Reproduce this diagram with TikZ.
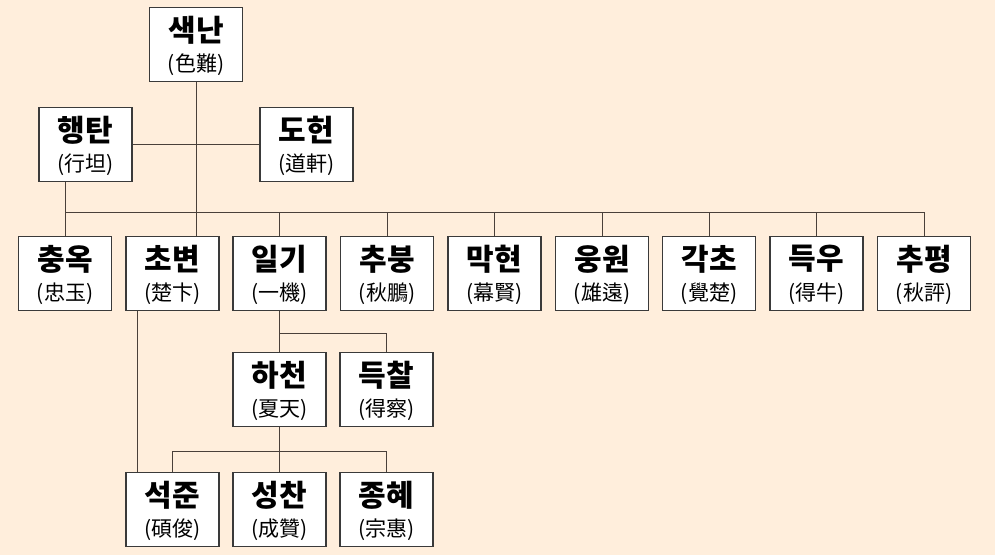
\documentclass[tikz,border=0pt]{standalone}
\usepackage{fontspec}
\setmainfont{Noto Sans CJK KR}
\usetikzlibrary{calc}
\definecolor{bgpeach}{HTML}{FFEEDC}
\definecolor{boxline}{HTML}{3A3A3A}
\definecolor{conline}{HTML}{4A403A}
\tikzset{
  pbox/.style={draw=boxline, line width=1.2pt, fill=white, minimum width=93pt, minimum height=74pt, inner sep=0pt},
  kortext/.style={inner sep=0pt, font=\fontsize{30}{34}\selectfont\bfseries},
  hantext/.style={inner sep=0pt, font=\fontsize{21}{25}\selectfont},
  conn/.style={draw=conline, line width=1pt}
}
\newcommand\pers[5]{%
  \node[pbox] (#1) at (#2,#3+37.5) {};
  \node[kortext] (#1k) at (#2,#3+23) {#4};
  \node[hantext] (#1h) at (#2,#3+57.5) {#5};
}
\begin{document}
\begin{tikzpicture}[x=1pt,y=-1pt]
\fill[bgpeach] (0,0) rectangle (995,555);
\useasboundingbox (0,0) rectangle (995,555);
\coordinate (busA) at (0,212);
\coordinate (busB) at (0,333);
\coordinate (busC) at (0,451);
\pers{sn}{196}{7}{색난}{(色難)}
\pers{ht}{85.5}{107}{행탄}{(行坦)}
\pers{dh}{306.5}{107}{도헌}{(道軒)}
\pers{co}{65}{236}{충옥}{(忠玉)}
\pers{cb}{172.5}{236}{초변}{(楚卞)}
\pers{ig}{279.5}{236}{일기}{(一機)}
\pers{cbg}{387}{236}{추붕}{(秋鵬)}
\pers{mh}{494.5}{236}{막현}{(幕賢)}
\pers{uw}{602}{236}{웅원}{(雄遠)}
\pers{gc}{709}{236}{각초}{(覺楚)}
\pers{du}{816.5}{236}{득우}{(得牛)}
\pers{cp}{924}{236}{추평}{(秋評)}
\pers{hc}{279.5}{352}{하천}{(夏天)}
\pers{dc}{386.5}{352}{득찰}{(得察)}
\pers{sj}{172.5}{472}{석준}{(碩俊)}
\pers{sc}{279.5}{472}{성찬}{(成贊)}
\pers{jh}{386.5}{472}{종혜}{(宗惠)}
% connectors
\draw[conn] (sn.south) -- (sn.south |- cb.north);
\draw[conn] (ht.east) -- (dh.west);
\draw[conn] (ht.south -| co.north) -- (co.north);
\draw[conn] (co.north |- busA) -- (cp.north |- busA);
\foreach \n in {ig,cbg,mh,uw,gc,du,cp}{
  \draw[conn] (\n.north |- busA) -- (\n.north);
}
\draw[conn] ([xshift=12pt]cb.south west) -- ([xshift=12pt]cb.south west |- sj.north);
\draw[conn] (ig.south) -- (ig.south |- hc.north);
\draw[conn] (ig.south |- busB) -- (dc.north |- busB) -- (dc.north);
\draw[conn] (hc.south) -- (sc.north);
\draw[conn] (sj.north |- busC) -- (jh.north |- busC);
\draw[conn] (sj.north |- busC) -- (sj.north);
\draw[conn] (jh.north |- busC) -- (jh.north);
\end{tikzpicture}
\end{document}
